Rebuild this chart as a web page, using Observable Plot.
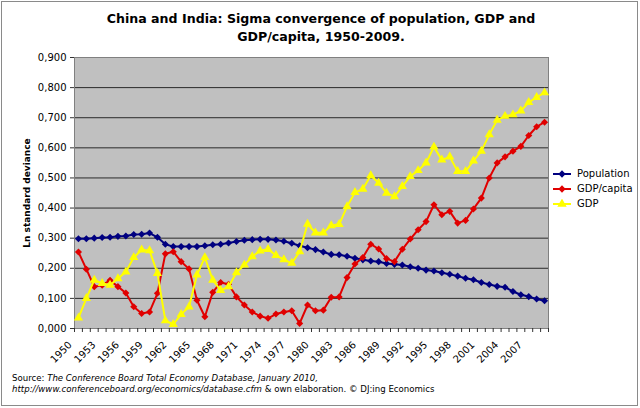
<!DOCTYPE html>
<html><head><meta charset="utf-8">
<script src="https://cdn.jsdelivr.net/npm/d3@7"></script>
<script src="https://cdn.jsdelivr.net/npm/@observablehq/plot@0.6"></script>
<style>
body{margin:0;background:#fff;}
#wrap{position:relative;width:640px;height:408px;overflow:hidden;font-family:"DejaVu Sans",Verdana,sans-serif;color:#000;}
#border{position:absolute;left:1px;top:1px;width:637px;height:405px;border:1px solid #8a8a8a;box-sizing:border-box;}
#title{position:absolute;left:0;top:10px;width:642px;text-align:center;font-weight:bold;font-size:12.6px;line-height:17.5px;}
#ylab{position:absolute;left:27px;top:193px;transform:translate(-50%,-50%) rotate(-90deg);white-space:nowrap;font-weight:bold;font-size:9px;}
#legend{position:absolute;left:552px;top:166px;font-size:10px;}
#legend .row{height:15px;display:flex;align-items:center;white-space:nowrap;}
#legend svg{margin-right:5px;}
#source{position:absolute;left:12px;top:372.5px;font-size:8.6px;line-height:11.8px;white-space:nowrap;}
#chart{position:absolute;left:0;top:0;}
</style>
</head><body>
<div id="wrap">
  <div id="border"></div>
  <div id="chart"></div>
  <div id="title">China and India: Sigma convergence of population, GDP and<br>GDP/capita, 1950-2009.</div>
  <div id="ylab">Ln standard deviance</div>
  <div id="legend"></div>
  <div id="source">Source: <i>The Conference Board Total Economy Database, January 2010,</i><br><i>http://www.conferenceboard.org/economics/database.cfm</i> &amp; own elaboration. © DJ:ing Economics</div>
</div>
<script>
const years = d3.range(1950, 2010);
const seriesNames = ["Population", "GDP/capita", "GDP"];
const seriesColors = ["#000080", "#e00000", "#ffff00"];
const seriesSymbols = ["diamond2", "diamond2", "triangle"];

const population = [
  0.298,0.298,0.300,0.302,0.303,0.306,0.307,0.312,0.313,0.317,
  0.303,0.280,0.272,0.272,0.272,0.272,0.275,0.278,0.280,0.284,
  0.289,0.293,0.295,0.296,0.296,0.294,0.290,0.283,0.275,0.268,
  0.262,0.254,0.246,0.245,0.240,0.233,0.228,0.224,0.222,0.216,
  0.213,0.211,0.205,0.200,0.194,0.191,0.185,0.180,0.174,0.167,
  0.162,0.153,0.146,0.140,0.137,0.123,0.112,0.106,0.098,0.092
];
const gdpPerCapita = [
  0.254,0.197,0.139,0.144,0.160,0.139,0.118,0.072,0.050,0.055,
  0.117,0.248,0.255,0.222,0.198,0.094,0.039,0.120,0.153,0.147,
  0.105,0.078,0.055,0.041,0.034,0.048,0.055,0.059,0.017,0.078,
  0.059,0.061,0.104,0.105,0.169,0.214,0.236,0.280,0.264,0.232,
  0.222,0.263,0.297,0.328,0.355,0.411,0.378,0.389,0.350,0.359,
  0.397,0.433,0.500,0.550,0.570,0.589,0.605,0.641,0.670,0.685
];
const gdp = [
  0.035,0.100,0.161,0.150,0.144,0.166,0.188,0.236,0.261,0.259,
  0.183,0.026,0.014,0.047,0.072,0.178,0.236,0.161,0.127,0.139,
  0.186,0.211,0.239,0.258,0.263,0.243,0.229,0.217,0.255,0.347,
  0.318,0.318,0.342,0.346,0.405,0.452,0.463,0.508,0.483,0.450,
  0.438,0.472,0.505,0.525,0.550,0.603,0.560,0.570,0.522,0.522,
  0.557,0.589,0.644,0.692,0.705,0.710,0.723,0.751,0.768,0.783
];
const yTicks = [0, 0.1, 0.2, 0.3, 0.4, 0.5, 0.6, 0.7, 0.8, 0.9];
const xLabelYears = d3.range(1950, 2008, 3);

const seriesValues = [population, gdpPerCapita, gdp];
const rows = [];
seriesNames.forEach((name, s) => {
  years.forEach((yr, i) => rows.push({series: name, year: yr, value: seriesValues[s][i]}));
});
const bounds = d3.range(1949.5, 2010, 1);
const fmt = d => d3.format(".3f")(d).replace(".", ",");

const marks = [
  Plot.frame({fill: "#c0c0c0", stroke: "none"}),
  Plot.ruleY(yTicks.filter(t => t > 0 && t < 0.9), {stroke: "#2a2a2a", strokeWidth: 1}),
  Plot.frame({stroke: "#808080", fill: "none"}),
  Plot.axisY({ticks: yTicks, tickFormat: fmt, tickSize: 4, tickPadding: 4, fontSize: 10, label: null, stroke: "#333"}),
  Plot.axisX({ticks: bounds, tickSize: 4, tickFormat: () => "", label: null, stroke: "#333"}),
  Plot.text(xLabelYears, {x: d => d, frameAnchor: "bottom", text: d => String(d), rotate: -45, textAnchor: "end", dx: -6, dy: 17, fontSize: 10, fill: "#000"})
];
seriesNames.forEach((name, s) => {
  const data = rows.filter(r => r.series === name);
  marks.push(Plot.line(data, {x: "year", y: "value", stroke: seriesColors[s], strokeWidth: 2}));
  marks.push(Plot.dot(data, {x: "year", y: "value", fill: seriesColors[s], stroke: "none", symbol: seriesSymbols[s], r: s === 2 ? 3.4 : 3.2}));
});

const plot = Plot.plot({
  width: 640, height: 408,
  marginLeft: 74, marginRight: 92, marginTop: 57, marginBottom: 80,
  style: {background: "transparent", fontFamily: "DejaVu Sans, Verdana, sans-serif", fontSize: "10px", color: "#000"},
  x: {domain: [1949.5, 2009.5], axis: null},
  y: {domain: [0, 0.9], axis: null},
  marks
});
document.getElementById("chart").appendChild(plot);

// legend
const legend = document.getElementById("legend");
const symPath = {
  diamond2: d3.symbol(d3.symbolDiamond2, 34)(),
  triangle: d3.symbol(d3.symbolTriangle, 38)()
};
seriesNames.forEach((name, s) => {
  const row = document.createElement("div");
  row.className = "row";
  row.innerHTML = `<svg width="20" height="10"><line x1="1" x2="19" y1="5" y2="5" stroke="${seriesColors[s]}" stroke-width="2"/><path transform="translate(10,5)" d="${symPath[seriesSymbols[s]]}" fill="${seriesColors[s]}"/></svg><span>${name}</span>`;
  legend.appendChild(row);
});
</script>
</body></html>
